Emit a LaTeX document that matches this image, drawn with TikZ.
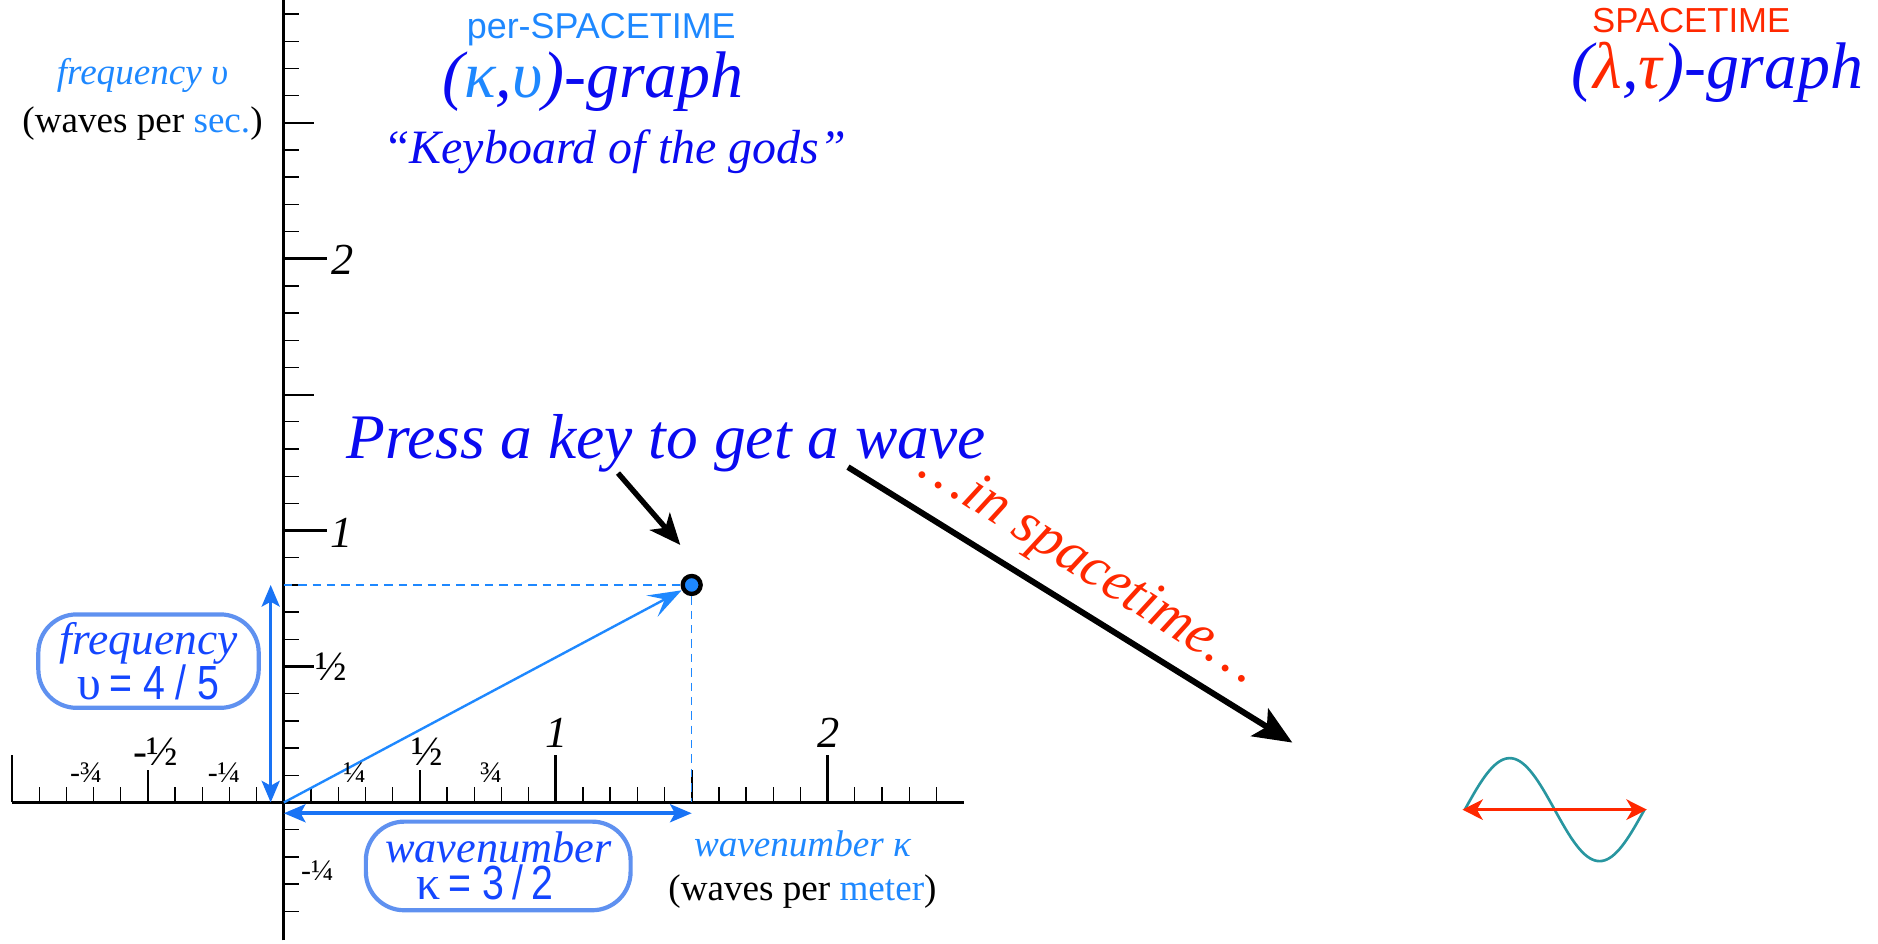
\documentclass[tikz,border=0pt]{standalone}
\usepackage{fontspec}
\setmainfont{Liberation Serif}
\setsansfont{Liberation Sans}
\newfontfamily\narrowsans[FakeStretch=0.82]{Liberation Sans}
\usetikzlibrary{arrows.meta}

\definecolor{lblue}{RGB}{30,136,255}
\definecolor{dblue}{RGB}{10,10,240}
\definecolor{sred}{RGB}{255,40,0}
\definecolor{boxline}{RGB}{95,145,240}
\definecolor{boxtext}{RGB}{20,70,255}
\definecolor{arrblue}{RGB}{25,115,245}
\definecolor{wteal}{RGB}{40,150,160}
\newcommand\myfs[1]{\fontsize{#1}{#1}\selectfont}

\tikzset{
  axisline/.style={line width=2.4pt, black},
  minortick/.style={line width=1.1pt, black},
  medtick/.style={line width=1.8pt, black},
  majtick/.style={line width=2.2pt, black},
  smallfrac/.style={font=\myfs{25}},
  bigfrac/.style={font=\myfs{35}},
  numlab/.style={font=\myfs{37}\itshape},
  guide/.style={lblue, line width=1.1pt, dash pattern=on 7pt off 5pt},
  vec/.style={lblue, line width=2pt, -{Stealth[length=28pt,width=20pt,inset=12pt]}},
  dblarrow/.style={arrblue, line width=3pt, {Stealth[length=18pt,width=15pt,inset=4pt]}-{Stealth[length=18pt,width=15pt,inset=4pt]}},
  redarrow/.style={sred, line width=3pt, {Stealth[length=17pt,width=17pt,inset=5pt]}-{Stealth[length=17pt,width=17pt,inset=5pt]}},
  bigblack/.style={black, line width=5pt, -{Stealth[length=32pt,width=27pt,inset=7pt]}},
  keyblack/.style={black, line width=4.5pt, -{Stealth[length=26pt,width=22pt,inset=7pt]}},
  keybox/.style={draw=boxline, line width=3.5pt, rounded corners=32pt, align=center, text=boxtext, inner sep=0pt},
  kpoint/.style={circle, draw=black, line width=3.6pt, fill=lblue, minimum size=15pt, inner sep=0pt, outer sep=2pt},
}

\begin{document}
\begin{tikzpicture}[x=1pt,y=1pt, inner sep=0pt, outer sep=0pt]
\useasboundingbox (0,0) rectangle (1568,788);

\begin{scope}[shift={(237pt,118pt)}, x=227pt, y=227pt]
  % axes
  \draw[axisline] (-1,0) -- (2.5,0);
  \draw[axisline] (0,-0.507) -- (0,2.95);
  % horizontal ticks
  \foreach \i in {-9,-8,-7,-6,-4,-3,-2,-1,1,2,3,4,6,7,8,9,11,12,13,14,16,17,18,19,21,22,23,24}
    \draw[minortick] (\i/10,0) -- ++(0,13pt);
  \foreach \i in {-0.5,0.5,1.5}
    \draw[medtick] (\i,0) -- ++(0,27pt);
  \foreach \i in {-1,1,2}
    \draw[majtick] (\i,0) -- ++(0,40pt);
  % vertical ticks
  \foreach \i in {-4,-3,-2,-1,1,2,3,4,6,7,8,9,11,12,13,14,16,17,18,19,21,22,23,24,26,27,28,29}
    \draw[minortick] (0,\i/10) -- ++(13pt,0);
  \foreach \i in {0.5,1.5,2.5}
    \draw[medtick] (0,\i) -- ++(25pt,0);
  \foreach \i in {1,2}
    \draw[majtick] (0,\i) -- ++(36pt,0);

  \coordinate (O) at (0,0);
  \coordinate (Py) at (0,0.8);
  \coordinate (Px) at (1.5,0);
  \node[kpoint] (P) at (1.5,0.8) {};
\end{scope}

% guides and vectors
\draw[guide] (Py) -- (P);
\draw[guide] (P) -- (Px);
\draw[vec] (O) -- (P);
\draw[dblarrow] ([xshift=-11pt]O) -- ([xshift=-11pt]Py);
\draw[dblarrow] ([yshift=-9pt]O) -- ([yshift=-9pt]Px);

% x-axis labels
\node[smallfrac] (xm34) at (72,143) {-¾};
\node[bigfrac] (xm12) at (130,160) {-½};
\node[smallfrac] (xm14) at (187,143) {-¼};
\node[smallfrac] (xp14) at (296,143) {¼};
\node[bigfrac] (xp12) at (357,160) {½};
\node[smallfrac] (xp34) at (410,143) {¾};
\node[numlab] (x1) at (465,176) {1};
\node[numlab] (x2) at (692,176) {2};
% y-axis labels
\node[bigfrac, anchor=west] (y12) at (263,231) {½};
\node[numlab, anchor=west] (y1) at (276,343) {1};
\node[numlab, anchor=west] (y2) at (277,571) {2};
\node[smallfrac] (ym14) at (265,61) {-¼};

% axis titles
\node[align=center, font=\fontsize{31}{40}\selectfont] (ytitle) at (119,705)
  {\textcolor{lblue}{\itshape frequency υ}\\(waves per \textcolor{lblue}{sec.})};
\node[align=center, font=\fontsize{31}{37}\selectfont] (xtitle) at (670,62)
  {\textcolor{lblue}{\itshape wavenumber κ}\\(waves per \textcolor{lblue}{meter})};

% titles
\node[font=\sffamily\myfs{30}, text=lblue] (ps) at (502,763) {per-SPACETIME};
\node[font=\myfs{55}\itshape, text=dblue] (kg) at (495,720) {(\textcolor{lblue}{κ},\textcolor{lblue}{υ})-graph};
\node[font=\myfs{40}\itshape, text=dblue] (kb) at (513,661) {“Keyboard of the gods”};
\node[font=\sffamily\myfs{29}, text=sred] (st) at (1412,771) {SPACETIME};
\node[font=\myfs{55}\itshape, text=dblue] (lg) at (1434,728) {(\textcolor{sred}{λ},\textcolor{sred}{τ})-graph};

% press a key
\node[font=\myfs{53}\itshape, text=dblue] (press) at (556,418) {Press a key to get a wave};
\coordinate (keyS) at (516,393);
\coordinate (keyE) at (568,333);
\draw[keyblack] (keyS) -- (keyE);

\coordinate (waveS) at (708,398);
\coordinate (waveE) at (1079,168);
\draw[bigblack] (waveS) -- (waveE);
\node[font=\myfs{48}\itshape, text=sred, rotate=-32.5, anchor=base] (inst) at (903,304) {…in spacetime…};

% boxes
\node[keybox, minimum width=184pt, minimum height=78pt] (fbox) at (124,236)
  {\fontsize{38}{34}\selectfont\itshape frequency\\ {\fontsize{40}{34}\selectfont υ\,\upshape\narrowsans = 4 / 5}};
\node[keybox, minimum width=221pt, minimum height=74pt] (kbox) at (416,65)
  {\fontsize{37}{33}\selectfont\itshape wavenumber\\ {\fontsize{40}{33}\selectfont\upshape κ\,\narrowsans = 3\,/\,2\hspace*{22pt}}};

% wave
\draw[wteal, line width=2.2pt] plot[domain=0:1, samples=73, smooth] ({1223+150*\x},{112+43*sin(360*\x)});
\coordinate (wl) at (1221,112);
\coordinate (wr) at (1375,112);
\draw[redarrow] (wl) -- (wr);
\end{tikzpicture}
\end{document}
